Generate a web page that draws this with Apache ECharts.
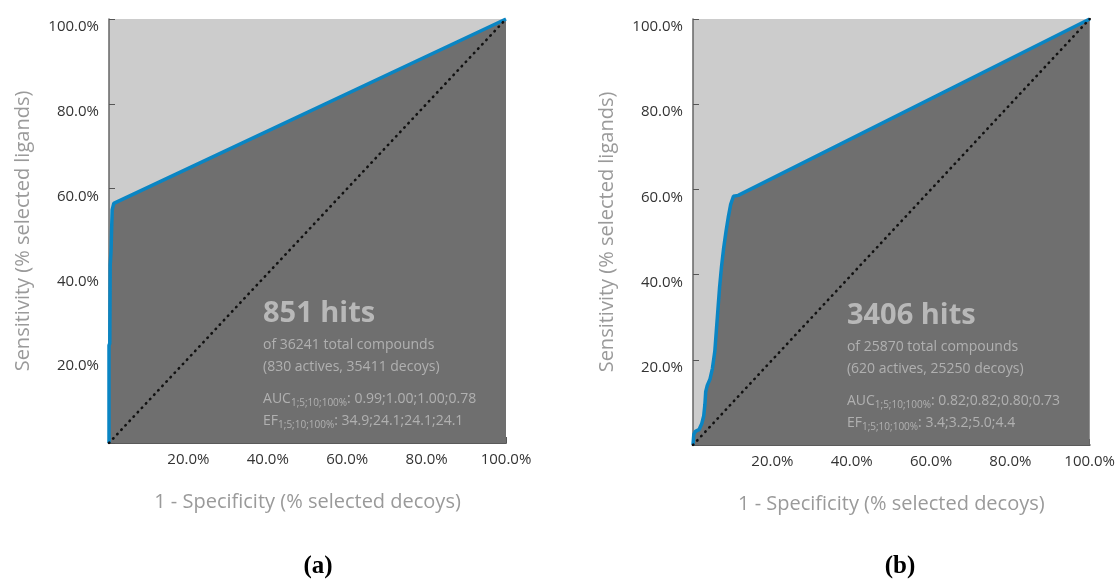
<!DOCTYPE html>
<html>
<head>
<meta charset="utf-8">
<script src="https://cdn.jsdelivr.net/npm/echarts@6/dist/echarts.min.js"></script>
<style>html,body{margin:0;padding:0;background:#fff}#c{width:1118px;height:581px}</style>
</head>
<body>
<div id="c"></div>
<script>
// ---- data ----
const axisTicks = [0, 20, 40, 60, 80, 100];
const rocA = [[0,0],[0,23],[0.2,23.5],[0.3,42],[0.5,45],[0.8,55],[1.2,56.5],[100,100]];
const rocB = [[0,0],[0.2,2.5],[0.6,3.2],[1.5,3.6],[2.2,5.0],[2.7,6.8],[3.0,9.5],[3.2,12.5],[3.6,14.0],[4.3,15.5],[4.9,18.0],[5.5,22],[5.9,27],[6.3,32],[6.7,37],[7.2,42],[7.7,46],[8.3,50],[8.9,53.5],[9.5,56.5],[10.2,58.4],[11.4,58.6],[100,100]];
const diagonal = [[0,0],[100,100]];
const hitsA = '851 hits';
const hitsB = '3406 hits';
const infoA = ['of 36241 total compounds', '(830 actives, 35411 decoys)'];
const infoB = ['of 25870 total compounds', '(620 actives, 25250 decoys)'];
const aucA = '0.99;1.00;1.00;0.78';
const aucB = '0.82;0.82;0.80;0.73';
const efA = '34.9;24.1;24.1;24.1';
const efB = '3.4;3.2;5.0;4.4';
const subLabel = '1;5;10;100%';
const panelLabels = ['a', 'b'];
const xName = '1 - Specificity (% selected decoys)';
const yName = 'Sensitivity (% selected ligands)';
// annotation anchor positions (data coords)
const noteX = 38.8;
const noteY = [30.4, 23.1, 17.9, 10.4, 5.2];

const FONT = 'Open Sans';
const LIGHT = '#cccccc', DARK = '#6f6f6f', BLUE = '#0a85c3';

function fmt(v){ return v === 0 ? '' : v.toFixed(1) + '%'; }

function xAxisCfg(i){
  return {
    type: 'value', gridIndex: i, min: 0, max: 100, interval: 20,
    name: xName, nameLocation: 'middle', nameGap: 49,
    nameTextStyle: {fontFamily: FONT, fontSize: 20, color: '#9a9a9a'},
    axisLine: {show: true, lineStyle: {color: '#5a5a5a', width: 2}},
    axisTick: {show: true, inside: true, length: 6, lineStyle: {color: '#555', width: 1}},
    axisLabel: {formatter: fmt, fontFamily: FONT, fontSize: 15, color: '#333', margin: 9},
    splitLine: {show: false}
  };
}
function yAxisCfg(i){
  return {
    type: 'value', gridIndex: i, min: 0, max: 100, interval: 20,
    name: yName, nameLocation: 'middle', nameGap: 76, nameRotate: 90,
    nameTextStyle: {fontFamily: FONT, fontSize: 20, color: '#9a9a9a'},
    axisLine: {show: true, lineStyle: {color: '#666', width: 1.5}},
    axisTick: {show: true, inside: true, length: 6, lineStyle: {color: '#555', width: 1}},
    axisLabel: {formatter: fmt, fontFamily: FONT, fontSize: 15, color: '#333', margin: 10, verticalAlign: 'top', lineHeight: 16},
    splitLine: {show: false}
  };
}
function rocSeries(i, data){
  return {
    type: 'line', xAxisIndex: i, yAxisIndex: i, data: data, showSymbol: false, symbol: 'none',
    lineStyle: {color: BLUE, width: 3.5}, areaStyle: {color: DARK, opacity: 1}, z: 2
  };
}
function diagSeries(i){
  return {
    type: 'line', xAxisIndex: i, yAxisIndex: i, data: diagonal, symbol: 'none',
    lineStyle: {color: '#111', width: 2.6, type: [0.5, 5.5], cap: 'round'}, z: 3
  };
}
const richBase = {
  t: {fontFamily: FONT, fontSize: 14, color: '#c0c0c0', lineHeight: 20},
  s: {fontFamily: FONT, fontSize: 10, color: '#c0c0c0', lineHeight: 20, padding: [8,0,0,0]}
};
function noteSeries(i, hits, info, auc, ef){
  const texts = [
    {value: [noteX, noteY[0]], label: {formatter: hits, fontFamily: FONT, fontSize: 29, fontWeight: 'bold', color: '#cbcbcb'}},
    {value: [noteX, noteY[1]], label: {formatter: '{t|' + info[0] + '}'}},
    {value: [noteX, noteY[2]], label: {formatter: '{t|' + info[1] + '}'}},
    {value: [noteX, noteY[3]], label: {formatter: '{t|AUC}{s|' + subLabel + '}{t|: ' + auc + '}'}},
    {value: [noteX, noteY[4]], label: {formatter: '{t|EF}{s|' + subLabel + '}{t|: ' + ef + '}'}}
  ];
  return {
    type: 'scatter', xAxisIndex: i, yAxisIndex: i, symbolSize: 0, silent: true, z: 4,
    label: {show: true, position: 'right', distance: 0, rich: richBase},
    data: texts
  };
}
const chart = echarts.init(document.getElementById('c'), null, {renderer: 'canvas'});
chart.setOption({
  animation: false,
  backgroundColor: '#ffffff',
  title: panelLabels.map((p, i) => ({
    text: '{p|(}{b|' + p + '}{p|)}',
    left: i === 0 ? 313 : 895, top: 549, textAlign: 'center',
    textStyle: {rich: {
      p: {fontFamily: 'Liberation Serif', fontSize: 25, color: '#000'},
      b: {fontFamily: 'Liberation Serif', fontSize: 25, fontWeight: 'bold', color: '#000'}
    }}
  })),
  grid: [
    {left: 109, top: 19, width: 397, height: 424, show: true, backgroundColor: LIGHT, borderWidth: 0},
    {left: 693, top: 19, width: 398, height: 426, show: true, backgroundColor: LIGHT, borderWidth: 0}
  ],
  xAxis: [xAxisCfg(0), xAxisCfg(1)],
  yAxis: [yAxisCfg(0), yAxisCfg(1)],
  series: [
    rocSeries(0, rocA), diagSeries(0), noteSeries(0, hitsA, infoA, aucA, efA),
    rocSeries(1, rocB), diagSeries(1), noteSeries(1, hitsB, infoB, aucB, efB)
  ]
});
</script>
</body>
</html>
